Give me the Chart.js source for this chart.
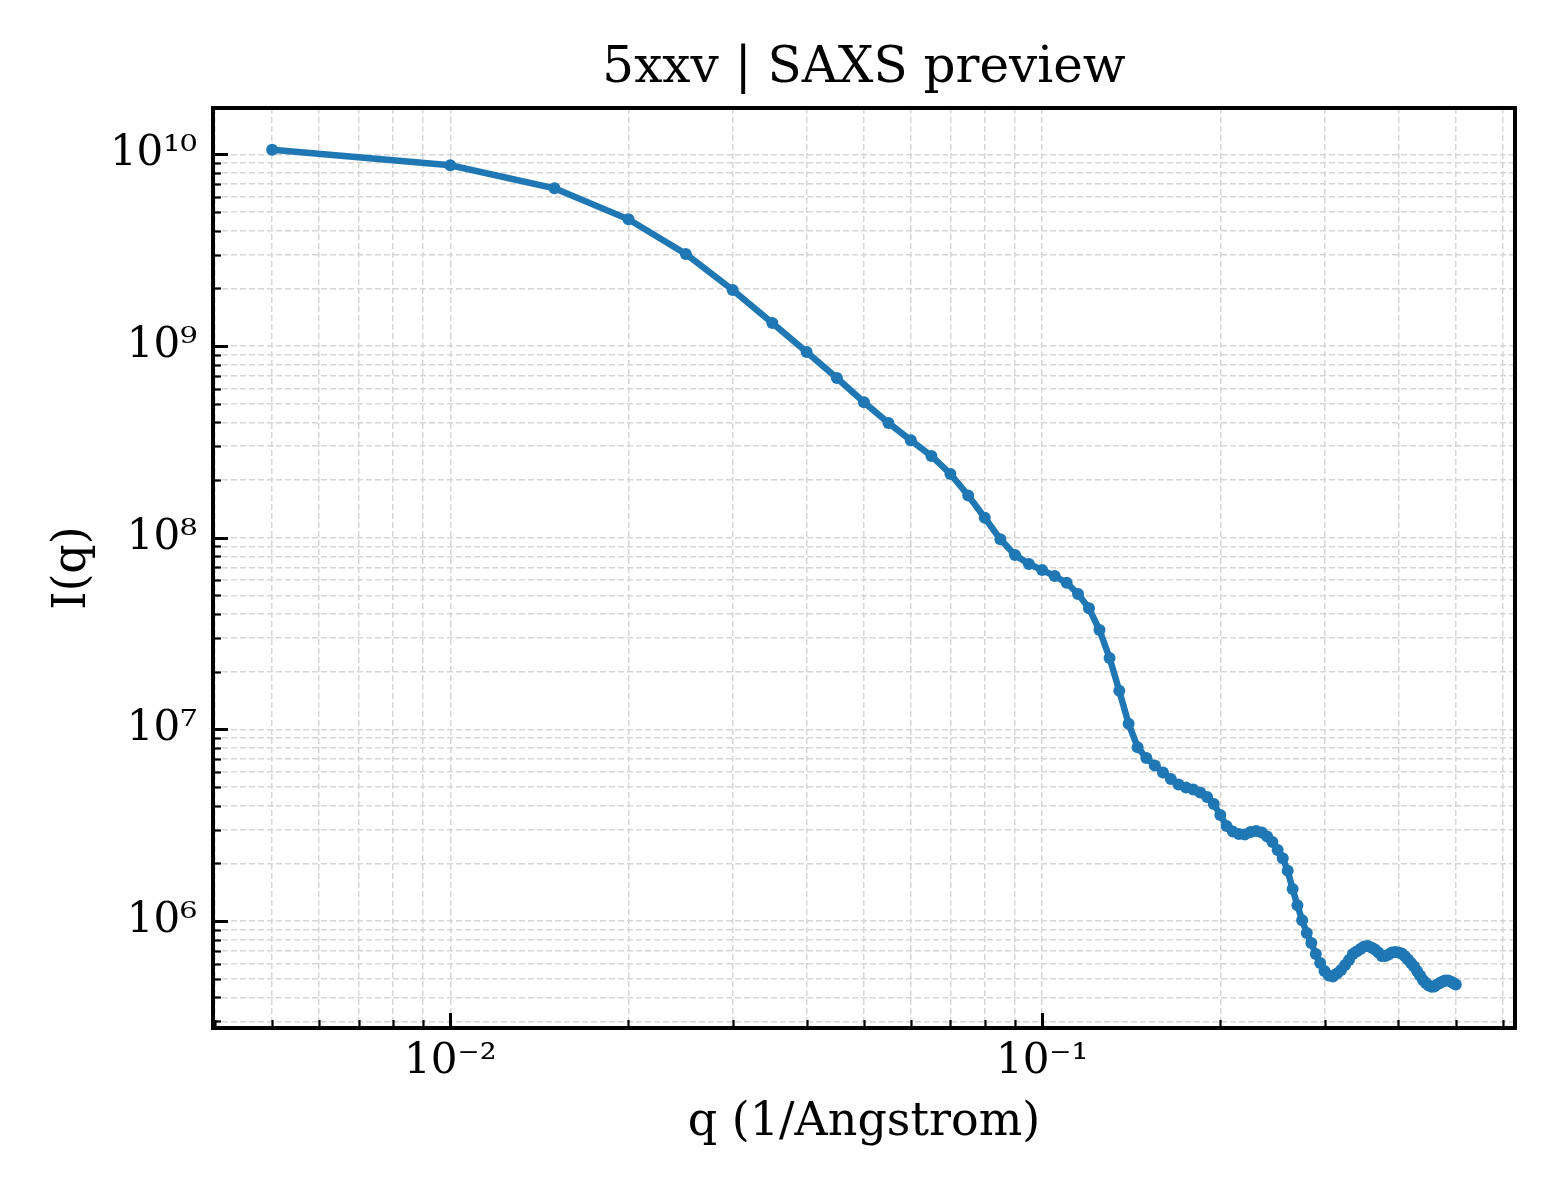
<!DOCTYPE html>
<html>
<head>
<meta charset="utf-8">
<title>5xxv | SAXS preview</title>
<script src="https://cdn.jsdelivr.net/npm/chart.js@4.4.1/dist/chart.umd.min.js"></script>
<style>
	html, body { margin: 0; padding: 0; background: #ffffff; }
	#wrap { width: 1560px; height: 1200px; }
</style>
</head>
<body>
<div id="wrap"><canvas id="saxsChart"></canvas></div>
<script>
// q in 1/Angstrom, one point every 0.005
const qValues = [
	0.005, 0.010, 0.015, 0.020, 0.025, 0.030, 0.035, 0.040, 0.045, 0.050,
	0.055, 0.060, 0.065, 0.070, 0.075, 0.080, 0.085, 0.090, 0.095, 0.100,
	0.105, 0.110, 0.115, 0.120, 0.125, 0.130, 0.135, 0.140, 0.145, 0.150,
	0.155, 0.160, 0.165, 0.170, 0.175, 0.180, 0.185, 0.190, 0.195, 0.200,
	0.205, 0.210, 0.215, 0.220, 0.225, 0.230, 0.235, 0.240, 0.245, 0.250,
	0.255, 0.260, 0.265, 0.270, 0.275, 0.280, 0.285, 0.290, 0.295, 0.300,
	0.305, 0.310, 0.315, 0.320, 0.325, 0.330, 0.335, 0.340, 0.345, 0.350,
	0.355, 0.360, 0.365, 0.370, 0.375, 0.380, 0.385, 0.390, 0.395, 0.400,
	0.405, 0.410, 0.415, 0.420, 0.425, 0.430, 0.435, 0.440, 0.445, 0.450,
	0.455, 0.460, 0.465, 0.470, 0.475, 0.480, 0.485, 0.490, 0.495, 0.500
];

// I(q)
const intensityValues = [
	1.055e10, 8.76e9, 6.65e9, 4.58e9, 3.02e9, 1.96e9, 1.32e9, 9.30e8, 6.81e8, 5.09e8,
	3.97e8, 3.22e8, 2.67e8, 2.15e8, 1.66e8, 1.27e8, 9.81e7, 8.12e7, 7.29e7, 6.78e7,
	6.31e7, 5.82e7, 5.09e7, 4.28e7, 3.30e7, 2.36e7, 1.59e7, 1.07e7, 8.07e6, 7.09e6,
	6.48e6, 5.96e6, 5.51e6, 5.16e6, 4.98e6, 4.86e6, 4.69e6, 4.44e6, 4.08e6, 3.58e6,
	3.13e6, 2.93e6, 2.85e6, 2.83e6, 2.92e6, 2.95e6, 2.90e6, 2.76e6, 2.59e6, 2.35e6,
	2.13e6, 1.83e6, 1.47e6, 1.21e6, 1.01e6, 8.67e5, 7.69e5, 6.73e5, 6.05e5, 5.49e5,
	5.20e5, 5.14e5, 5.33e5, 5.56e5, 5.90e5, 6.27e5, 6.73e5, 6.94e5, 7.15e5, 7.37e5,
	7.42e5, 7.28e5, 7.11e5, 6.86e5, 6.58e5, 6.58e5, 6.70e5, 6.86e5, 6.90e5, 6.86e5,
	6.78e5, 6.58e5, 6.30e5, 6.05e5, 5.80e5, 5.49e5, 5.20e5, 4.93e5, 4.75e5, 4.61e5,
	4.55e5, 4.56e5, 4.67e5, 4.75e5, 4.84e5, 4.90e5, 4.90e5, 4.84e5, 4.75e5, 4.67e5
];

const xMajorTicks  = [0.01, 0.1];
const xMajorLabels = ['10⁻²', '10⁻¹'];
const yMajorTicks  = [1e6, 1e7, 1e8, 1e9, 1e10];
const yMajorLabels = ['10⁶', '10⁷', '10⁸', '10⁹', '10¹⁰'];
const minorSteps   = [2, 3, 4, 5, 6, 7, 8, 9];

const xLimits = [0.003972, 0.6295];
const yLimits = [2.77e5, 1.744e10];

const clrLine = '#1f77b4';
const clrGrid = '#d6d6d6';
const fontFamily = "'DejaVu Serif', 'Liberation Serif', serif";

function build_log_ticks(scale)
{
	const ticks = [];
	const firstExp = Math.floor(Math.log10(scale.min));
	const lastExp = Math.floor(Math.log10(scale.max));
	for(let e = firstExp; e <= lastExp; ++e) {
		const steps = [1].concat(minorSteps);
		for(let s = 0; s < steps.length; ++s) {
			const value = Number((steps[s] * Math.pow(10, e)).toPrecision(12));
			if(value >= scale.min && value <= scale.max) {
				ticks.push({ value: value, major: steps[s] === 1 });
			}
		}
	}
	scale.ticks = ticks;
}

function major_label(value, majors, labels)
{
	for(let i = 0; i < majors.length; ++i) {
		if(Math.abs(value / majors[i] - 1) < 1e-9) { return labels[i]; }
	}
	return '';
}

// matplotlib style frame with inward ticks on the left and bottom
const frameTicksPlugin = {
	id: 'frameTicks',
	afterDraw(chart)
	{
		const ctx = chart.ctx;
		const area = chart.chartArea;
		const xs = chart.scales.x;
		const ys = chart.scales.y;

		ctx.save();
		ctx.strokeStyle = '#000000';
		ctx.lineCap = 'butt';

		xs.ticks.forEach(function(t) {
			const px = Math.round(xs.getPixelForValue(t.value)) + 0.5;
			ctx.lineWidth = t.major ? 3 : 2.2;
			ctx.beginPath();
			ctx.moveTo(px, area.bottom);
			ctx.lineTo(px, area.bottom - (t.major ? 15 : 8));
			ctx.stroke();
		});

		ys.ticks.forEach(function(t) {
			const py = Math.round(ys.getPixelForValue(t.value)) + 0.5;
			ctx.lineWidth = t.major ? 3 : 2.2;
			ctx.beginPath();
			ctx.moveTo(area.left, py);
			ctx.lineTo(area.left + (t.major ? 15 : 8), py);
			ctx.stroke();
		});

		ctx.lineWidth = 4;
		ctx.strokeRect(area.left, area.top, area.right - area.left, area.bottom - area.top);
		ctx.restore();
	}
};

const points = qValues.map(function(q, i) { return { x: q, y: intensityValues[i] }; });

const chart = new Chart('saxsChart', {
	type: 'line',
	data: {
		datasets: [{
			data: points,
			borderColor: clrLine,
			borderWidth: 6.5,
			backgroundColor: clrLine,
			pointBackgroundColor: clrLine,
			pointBorderWidth: 0,
			pointRadius: 6,
			pointHoverRadius: 6,
			tension: 0,
			fill: false
		}]
	},
	options: {
		responsive: true,
		maintainAspectRatio: false,
		devicePixelRatio: 1,
		animation: false,
		layout: {
			padding: { left: 0, right: 45, top: 0, bottom: 0 }
		},
		scales: {
			x: {
				type: 'logarithmic',
				min: xLimits[0],
				max: xLimits[1],
				afterBuildTicks: build_log_ticks,
				afterFit: function(scale) { scale.height = 172; },
				grid: { color: clrGrid, lineWidth: 1.5, drawTicks: false },
				border: { display: false, dash: [6, 3] },
				ticks: {
					autoSkip: false,
					maxRotation: 0,
					padding: 9,
					color: '#000000',
					font: { family: fontFamily, size: 42 },
					callback: function(value) { return major_label(value, xMajorTicks, xMajorLabels); }
				},
				title: {
					display: true,
					text: 'q (1/Angstrom)',
					color: '#000000',
					font: { family: fontFamily, size: 46 },
					padding: { top: 0, bottom: 49 }
				}
			},
			y: {
				type: 'logarithmic',
				min: yLimits[0],
				max: yLimits[1],
				afterBuildTicks: build_log_ticks,
				afterFit: function(scale) { scale.width = 213; },
				grid: { color: clrGrid, lineWidth: 1.5, drawTicks: false },
				border: { display: false, dash: [6, 3] },
				ticks: {
					autoSkip: false,
					padding: 16,
					color: '#000000',
					font: { family: fontFamily, size: 42 },
					callback: function(value) { return major_label(value, yMajorTicks, yMajorLabels); }
				},
				title: {
					display: true,
					text: 'I(q)',
					color: '#000000',
					font: { family: fontFamily, size: 46 },
					padding: { top: 45, bottom: 0 }
				}
			}
		},
		plugins: {
			legend: { display: false },
			tooltip: { enabled: false },
			title: {
				display: true,
				fullSize: false,
				text: '5xxv | SAXS preview',
				color: '#000000',
				font: { family: fontFamily, size: 50, weight: 'normal' },
				padding: { top: 39, bottom: 9 }
			}
		}
	},
	plugins: [frameTicksPlugin]
});
</script>
</body>
</html>
